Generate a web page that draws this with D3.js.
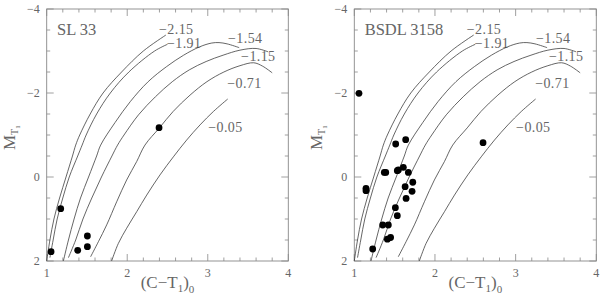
<!DOCTYPE html>
<html><head><meta charset="utf-8">
<script src="https://cdn.jsdelivr.net/npm/d3@7"></script>
<style>body{margin:0;background:#fff}svg{display:block}</style>
</head><body><svg id="c" width="600" height="295"></svg>
<script>
// Isochrone metallicity labels
const isoNames = ["−2.15","−1.91","−1.54","−1.15","−0.71","−0.05"];
// Isochrone tracks [(C-T1)0, M_T1]
const iso_m215 = [[1.0,2.0],[1.04,1.5],[1.09,1.0],[1.16,0.5],[1.24,0.0],[1.32,-0.5],[1.36,-0.76],[1.41,-1.0],[1.54,-1.5],[1.70,-2.0],[1.93,-2.5],[2.2,-3.0],[2.48,-3.38]];
const iso_m191 = [[1.04,1.92],[1.08,1.5],[1.13,1.0],[1.2,0.5],[1.28,0],[1.385,-0.5],[1.44,-0.76],[1.49,-1.0],[1.62,-1.5],[1.79,-2.0],[2.02,-2.5],[2.34,-3.0],[2.50,-3.16]];
const iso_m154 = [[1.207,2.0],[1.27,1.5],[1.34,1.0],[1.42,0.5],[1.52,0],[1.62,-0.5],[1.67,-0.76],[1.85,-1.3],[2.04,-1.8],[2.26,-2.27],[2.49,-2.63],[2.70,-2.9],[2.9,-3.1],[3.05,-3.19],[3.14,-3.2],[3.24,-3.17],[3.39,-3.08]];
const iso_m115 = [[1.27,1.92],[1.36,1.5],[1.45,1.0],[1.56,0.5],[1.68,0],[1.81,-0.5],[1.88,-0.76],[1.96,-1.0],[2.14,-1.48],[2.35,-1.91],[2.56,-2.27],[2.77,-2.55],[2.98,-2.75],[3.19,-2.9],[3.40,-3.02],[3.60,-3.06],[3.75,-2.98]];
const iso_m071 = [[1.545,1.9],[1.642,1.54],[1.745,1.14],[1.869,0.59],[1.993,0.07],[2.118,-0.37],[2.22,-0.76],[2.40,-1.17],[2.57,-1.56],[2.78,-1.95],[2.99,-2.27],[3.2,-2.5],[3.4,-2.65],[3.57,-2.72],[3.68,-2.64],[3.8,-2.48]];
const iso_m005 = [[1.806,2.0],[1.89,1.58],[1.993,1.22],[2.118,0.825],[2.242,0.43],[2.407,-0.05],[2.573,-0.48],[2.738,-0.88],[2.904,-1.24],[3.07,-1.56],[3.248,-1.857]];
const isoTracks = [iso_m215, iso_m191, iso_m154, iso_m115, iso_m071, iso_m005];
// label anchor positions (data coords)
const isoLabelX = [2.395, 2.494, 3.252, 3.414, 3.242, 3.006];
const isoLabelY = [-3.405, -3.06, -3.18, -2.76, -2.12, -1.07];

// Cluster names
const clusterNames = ["SL 33", "BSDL 3158"];
// Stars
const sl33 = [[2.395,-1.175],[1.174,0.754],[1.054,1.778],[1.505,1.405],[1.505,1.659],[1.385,1.746]];
const bsdl3158 = [[1.058,-1.992],[1.513,-0.786],[1.637,-0.889],[2.596,-0.817],[1.372,-0.11],[1.39,-0.11],
  [1.533,-0.15],[1.546,-0.167],[1.608,-0.23],[1.67,-0.11],[1.725,0.125],[1.63,0.23],[1.716,0.34],[1.642,0.51],
  [1.145,0.27],[1.145,0.325],[1.509,0.73],[1.533,0.92],[1.352,1.143],[1.422,1.143],[1.41,1.48],[1.45,1.44],[1.228,1.714]];
const starSets = [sl33, bsdl3158];

// ticks
const xMajor = [1,2,3,4];
const yMajor = [-4,-2,0,2];

const svg = d3.select("#c");
const panels = [{x0:46.7, x1:288.3}, {x0:354.3, x1:596.3}];
const yTop = 9, yBot = 261;
const serif = "'Liberation Serif','DejaVu Serif',serif";
const ink = "#333", grey = "#666";

panels.forEach((p, i) => {
  const x = d3.scaleLinear().domain([1,4]).range([p.x0, p.x1]);
  const y = d3.scaleLinear().domain([-4,2]).range([yTop, yBot]);
  const g = svg.append("g");

  g.append("rect").attr("x", p.x0).attr("y", yTop).attr("width", p.x1-p.x0).attr("height", yBot-yTop)
    .attr("fill","none").attr("stroke","#888").attr("stroke-width",0.9);

  const xMinor = d3.range(1, 4.001, 0.2);
  const yMinor = d3.range(-4, 2.001, 0.5);
  const tk = g.append("g").attr("stroke","#888").attr("stroke-width",0.8);
  xMinor.forEach(v => {
    const L = xMajor.some(m => Math.abs(m-v)<1e-6) ? 7 : 3.5;
    tk.append("line").attr("x1",x(v)).attr("x2",x(v)).attr("y1",yBot).attr("y2",yBot-L);
    tk.append("line").attr("x1",x(v)).attr("x2",x(v)).attr("y1",yTop).attr("y2",yTop+L);
  });
  yMinor.forEach(v => {
    const L = yMajor.some(m => Math.abs(m-v)<1e-6) ? 7 : 3.5;
    tk.append("line").attr("y1",y(v)).attr("y2",y(v)).attr("x1",p.x0).attr("x2",p.x0+L);
    tk.append("line").attr("y1",y(v)).attr("y2",y(v)).attr("x1",p.x1).attr("x2",p.x1-L);
  });

  xMajor.forEach(v => {
    g.append("text").attr("x", x(v)).attr("y", yBot+16).attr("text-anchor","middle")
      .attr("font-family",serif).attr("font-size",12).attr("fill",grey).text(String(v));
  });
  yMajor.forEach(v => {
    g.append("text").attr("x", p.x0-7).attr("y", y(v)+4).attr("text-anchor","end")
      .attr("font-family",serif).attr("font-size",12).attr("fill",grey).text(v<0 ? "−"+Math.abs(v) : String(v));
  });

  const line = d3.line().x(d=>x(d[0])).y(d=>y(d[1])).curve(d3.curveCatmullRom.alpha(0.5));
  isoTracks.forEach((t, k) => {
    g.append("path").attr("d", line(t)).attr("fill","none").attr("stroke",ink).attr("stroke-width",0.75);
    g.append("text").attr("x", x(isoLabelX[k])).attr("y", y(isoLabelY[k]))
      .attr("font-family",serif).attr("font-size",14).attr("letter-spacing",0.4).attr("fill",grey).text(isoNames[k]);
  });

  g.selectAll("circle.s").data(starSets[i]).enter().append("circle")
    .attr("cx", d=>x(d[0])).attr("cy", d=>y(d[1])).attr("r",3.4).attr("fill","#000");

  g.append("text").attr("x", x(1.128)).attr("y", y(-3.38))
    .attr("font-family",serif).attr("font-size",16.5).attr("fill",grey).text(clusterNames[i]);

  const xt = g.append("text").attr("x", (p.x0+p.x1)/2).attr("y", 288).attr("text-anchor","middle")
    .attr("font-family",serif).attr("font-size",17).attr("fill",grey);
  xt.append("tspan").text("(C−T");
  xt.append("tspan").attr("font-size",11).attr("dy",4).text("1");
  xt.append("tspan").attr("dy",-4).text(")");
  xt.append("tspan").attr("font-size",11).attr("dy",5).text("0");

  const yt = g.append("text").attr("transform", `translate(${p.x0-32},${(yTop+yBot)/2+15}) rotate(-90)`)
    .attr("font-family",serif).attr("font-size",17).attr("fill",grey);
  yt.append("tspan").text("M");
  yt.append("tspan").attr("font-size",10).attr("dy",3).text("T");
  yt.append("tspan").attr("font-size",7).attr("dy",2).text("1");
});
</script></body></html>
